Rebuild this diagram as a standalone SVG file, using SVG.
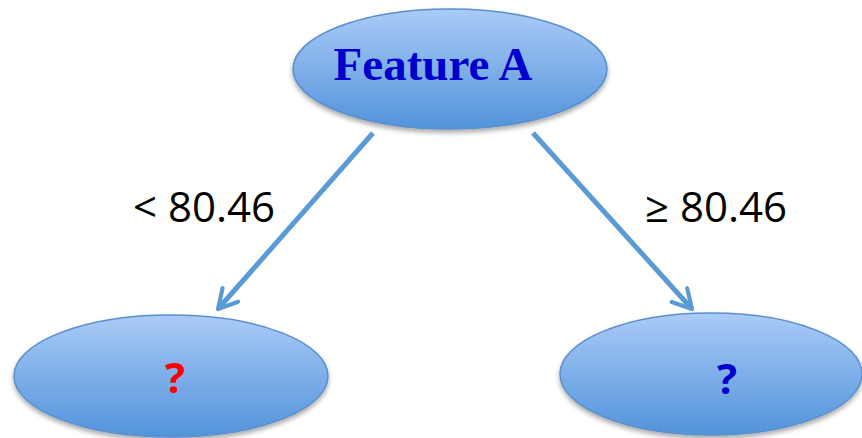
<svg xmlns="http://www.w3.org/2000/svg" width="862" height="438" viewBox="0 0 862 438">
  <defs>
    <linearGradient id="nodeFill" x1="0" y1="0" x2="0" y2="1">
      <stop offset="0" stop-color="#AACBF7"/>
      <stop offset="1" stop-color="#5293DA"/>
    </linearGradient>
    <filter id="shadow" x="-10%" y="-10%" width="120%" height="130%">
      <feGaussianBlur in="SourceAlpha" stdDeviation="2.5"/>
      <feOffset dy="3" result="b"/>
      <feComponentTransfer><feFuncA type="linear" slope="0.35"/></feComponentTransfer>
      <feMerge><feMergeNode/><feMergeNode in="SourceGraphic"/></feMerge>
    </filter>
    <marker id="chev" viewBox="0 0 12 12" refX="10" refY="6" markerWidth="5" markerHeight="5" orient="auto" markerUnits="strokeWidth">
      <path d="M1,1 L10,6 L1,11" fill="none" stroke="#5B9BD5" stroke-width="2" stroke-linecap="round" stroke-linejoin="round"/>
    </marker>
  </defs>
  <style>
    .node { fill: url(#nodeFill); stroke: #5A8FCC; stroke-width: 1.5; filter: url(#shadow); }
    .edge { stroke: #5B9BD5; stroke-width: 5; fill: none; marker-end: url(#chev); }
    .cond { font-family: "Open Sans", "Liberation Sans", sans-serif; font-size: 42px; fill: #000; }
    .q { font-family: "Open Sans", "Liberation Sans", sans-serif; font-weight: bold; font-size: 42px; text-anchor: middle; }
  </style>

  <g id="connectors">
    <line class="edge" x1="373" y1="133" x2="218" y2="309"/>
    <line class="edge" x1="533" y1="133" x2="692" y2="309"/>
    <text class="cond" x="133" y="222">&lt; 80.46</text>
    <text class="cond" x="645" y="222">≥ 80.46</text>
  </g>

  <g id="root">
    <ellipse class="node" cx="450" cy="69" rx="157" ry="60"/>
    <text x="433" y="80" font-family="'Liberation Serif', 'Times New Roman', serif" font-weight="bold" font-size="47" fill="#0000CC" text-anchor="middle">Feature A</text>
  </g>

  <g id="left">
    <ellipse class="node" cx="171" cy="376" rx="157" ry="61"/>
    <text class="q" x="175" y="393" fill="#FF0000">?</text>
  </g>

  <g id="right">
    <ellipse class="node" cx="711" cy="374" rx="151" ry="61"/>
    <text class="q" x="727" y="394" fill="#0000CC">?</text>
  </g>
</svg>
